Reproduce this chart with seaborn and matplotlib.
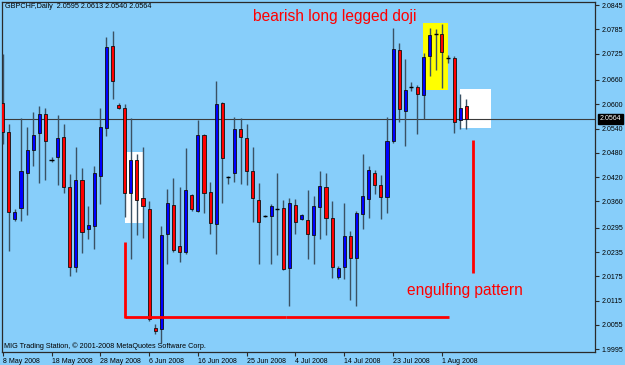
import numpy as np
import pandas as pd
import matplotlib
matplotlib.use("Agg")
import matplotlib.pyplot as plt
import matplotlib.transforms as mtransforms
from matplotlib.patches import Rectangle
import seaborn as sns

# ---------------- data (GBPCHF daily) ----------------
opens = [2.0604, 2.0532, 2.0317, 2.0343, 2.0430, 2.0486, 2.0530, 2.0575, 2.0462, 2.0470,
         2.0519, 2.0396, 2.0199, 2.0412, 2.0291, 2.0299, 2.0422, 2.0541, 2.0744, 2.0598,
         2.0590, 2.0382, 2.0462, 2.0369, 2.0342, 2.0047, 2.0044, 2.0279, 2.0351, 2.0249,
         2.0236, 2.0375, 2.0336, 2.0524, 2.0383, 2.0304, 2.0604, 2.0420, 2.0429, 2.0538,
         2.0516, 2.0435, 2.0363, 2.0324, 2.0324, 2.0341, 2.0343, 2.0196, 2.0351, 2.0316,
         2.0315, 2.0277, 2.0347, 2.0396, 2.0318, 2.0174, 2.0198, 2.0274, 2.0221, 2.0328,
         2.0365, 2.0431, 2.0401, 2.0372, 2.0509, 2.0733, 2.0583, 2.0643, 2.0643, 2.0623,
         2.0718, 2.0773, 2.0773, 2.0715, 2.0715, 2.0560, 2.0595]
highs = [2.0725, 2.0551, 2.0341, 2.0565, 2.0544, 2.0582, 2.0595, 2.0590, 2.0470, 2.0573,
         2.0551, 2.0427, 2.0495, 2.0443, 2.0349, 2.0448, 2.0590, 2.0765, 2.0781, 2.0603,
         2.0600, 2.0567, 2.0476, 2.0495, 2.0361, 2.0057, 2.0299, 2.0390, 2.0419, 2.0396,
         2.0491, 2.0378, 2.0562, 2.0527, 2.0409, 2.0658, 2.0606, 2.0423, 2.0569, 2.0565,
         2.0552, 2.0495, 2.0406, 2.0326, 2.0353, 2.0429, 2.0363, 2.0369, 2.0367, 2.0328,
         2.0389, 2.0374, 2.0434, 2.0431, 2.0361, 2.0201, 2.0357, 2.0287, 2.0336, 2.0476,
         2.0448, 2.0437, 2.0425, 2.0569, 2.0788, 2.0752, 2.0711, 2.0656, 2.0648, 2.0727,
         2.0788, 2.0785, 2.0798, 2.0721, 2.0719, 2.0626, 2.0613]
lows = [2.0503, 2.0238, 2.0312, 2.0312, 2.0327, 2.0447, 2.0405, 2.0412, 2.0457, 2.0401,
        2.0382, 2.0176, 2.0187, 2.0233, 2.0267, 2.0242, 2.0353, 2.0522, 2.0613, 2.0588,
        2.0322, 2.0217, 2.0276, 2.0269, 2.0065, 2.0032, 2.0011, 2.0206, 2.0236, 2.0211,
        2.0229, 2.0336, 2.0334, 2.0332, 2.0280, 2.0231, 2.0357, 2.0402, 2.0409, 2.0402,
        2.0401, 2.0309, 2.0206, 2.0322, 2.0205, 2.0228, 2.0190, 2.0102, 2.0280, 2.0313,
        2.0219, 2.0205, 2.0268, 2.0277, 2.0172, 2.0168, 2.0168, 2.0116, 2.0102, 2.0291,
        2.0318, 2.0379, 2.0316, 2.0332, 2.0505, 2.0557, 2.0497, 2.0633, 2.0527, 2.0563,
        2.0670, 2.0684, 2.0640, 2.0703, 2.0530, 2.0538, 2.0540]
closes = [2.0532, 2.0334, 2.0335, 2.0434, 2.0486, 2.0523, 2.0575, 2.0508, 2.0462, 2.0517,
          2.0396, 2.0198, 2.0412, 2.0285, 2.0301, 2.0431, 2.0544, 2.0742, 2.0658, 2.0590,
          2.0382, 2.0462, 2.0363, 2.0349, 2.0070, 2.0040, 2.0277, 2.0357, 2.0241, 2.0234,
          2.0388, 2.0341, 2.0524, 2.0382, 2.0306, 2.0601, 2.0467, 2.0420, 2.0540, 2.0518,
          2.0434, 2.0368, 2.0309, 2.0324, 2.0348, 2.0341, 2.0194, 2.0357, 2.0309, 2.0327,
          2.0279, 2.0349, 2.0398, 2.0320, 2.0199, 2.0196, 2.0275, 2.0220, 2.0331, 2.0374,
          2.0437, 2.0401, 2.0371, 2.0509, 2.0736, 2.0589, 2.0635, 2.0643, 2.0625, 2.0717,
          2.0771, 2.0773, 2.0730, 2.0715, 2.0557, 2.0590, 2.0564]

date_tick_bars = [0, 8, 16, 24, 32, 40, 48, 56, 64, 72]
date_labels = ["8 May 2008", "18 May 2008", "28 May 2008", "6 Jun 2008", "16 Jun 2008",
               "25 Jun 2008", "4 Jul 2008", "14 Jul 2008", "23 Jul 2008", "1 Aug 2008"]
price_ticks = [2.0845, 2.0785, 2.0725, 2.0660, 2.0600, 2.0540, 2.0480, 2.0420,
               2.0360, 2.0295, 2.0235, 2.0175, 2.0115, 2.0055, 1.9995]
last_price = 2.0564
header = "GBPCHF,Daily  2.0595 2.0613 2.0540 2.0564"
footer = "MIG Trading Station, \u00a9 2001-2008 MetaQuotes Software Corp."
note_doji = "bearish long legged doji"
note_engulf = "engulfing pattern"

# ---------------- style ----------------
sns.set_theme(style="white")
plt.rcParams['font.family'] = ['Liberation Sans', 'DejaVu Sans']

W, H = 625, 365
BG = '#87CEFA'
fig = plt.figure(figsize=(W / 100, H / 100), dpi=100)
fig.patch.set_facecolor(BG)

PX_L, PX_R, PX_T, PX_B = 2, 595, 2, 352
ax = fig.add_axes([PX_L / W, 1 - PX_B / H, (PX_R - PX_L) / W, (PX_B - PX_T) / H])
ax.set_facecolor(BG)

# pixel <-> data helpers (for annotation objects only)
X0, DX = 2.7, 6.1
P_REF, Y_REF, PPX = 2.0845, 5.0, 0.0002469


def px2x(px):
    return (px - X0) / DX


def py2p(py):
    return P_REF - (py - Y_REF) * PPX


ax.set_xlim(px2x(PX_L), px2x(PX_R))
ax.set_ylim(py2p(PX_B), py2p(PX_T))

df = pd.DataFrame({"open": opens, "high": highs, "low": lows, "close": closes})
df["idx"] = np.arange(len(df))
df["bull"] = df["close"] > df["open"]
df["doji"] = df["close"] == df["open"]

# annotation rectangles (behind candles)
ax.add_patch(Rectangle((px2x(423.3), py2p(90.0)), (447.7 - 423.3) / DX, (90.0 - 22.7) * PPX,
                       facecolor='#FFFF00', edgecolor='none', zorder=1))
ax.add_patch(Rectangle((px2x(460.0), py2p(128.0)), (490.7 - 460.0) / DX, (128.0 - 89.3) * PPX,
                       facecolor='white', edgecolor='none', zorder=1))
ax.add_patch(Rectangle((px2x(125.0), py2p(222.7)), (143.3 - 125.0) / DX, (222.7 - 152.3) * PPX,
                       facecolor='white', edgecolor='none', zorder=1))

# bid line
ax.axhline(last_price, color='#3a3a3a', lw=0.8, zorder=2)

# wicks
ax.vlines(df["idx"], df["low"], df["high"], color='#3a5163', lw=1.0, zorder=3)

# bodies
body = df[~df["doji"]]
bottoms = np.minimum(body["open"], body["close"])
heights = np.abs(body["close"] - body["open"])
colors = np.where(body["bull"], '#0000FF', '#FF0000')
ax.bar(body["idx"], heights, bottom=bottoms, width=0.52, color=colors,
       edgecolor='#101010', linewidth=0.6, zorder=4)

# doji crosses
dj = df[df["doji"]]
ax.hlines(dj["close"], dj["idx"] - 0.33, dj["idx"] + 0.33, color='black', lw=1.0, zorder=4)

# red trendlines
RED = '#FF0000'
ax.plot([px2x(125), px2x(125)], [py2p(241.7), py2p(318.3)], color=RED, lw=2, zorder=5,
        solid_capstyle='butt')
ax.plot([px2x(125), px2x(286)], [py2p(317.3), py2p(317.3)], color=RED, lw=2, zorder=5,
        solid_capstyle='butt')
ax.plot([px2x(286), px2x(449)], [py2p(316.5), py2p(316.5)], color=RED, lw=2, zorder=5,
        solid_capstyle='butt')
ax.plot([px2x(472.7), px2x(472.7)], [py2p(140), py2p(273.3)], color=RED, lw=2, zorder=5,
        solid_capstyle='butt')

# axes / ticks
for s in ax.spines.values():
    s.set_color('#2a2a2a')
    s.set_linewidth(0.9)
ax.grid(False)
ax.yaxis.tick_right()
ax.set_yticks(price_ticks)
ax.set_yticklabels([f"{p:.4f}" for p in price_ticks])
ax.set_xticks(date_tick_bars)
ax.set_xticklabels(date_labels, ha='left')
ax.tick_params(axis='y', which='both', right=True, left=False, direction='out', length=3,
               width=0.8, color='#2a2a2a', labelsize=5, pad=1.5, labelcolor='black')
ax.tick_params(axis='x', which='both', bottom=True, top=False, direction='out', length=3,
               width=0.8, color='#2a2a2a', labelsize=5, pad=1.5, labelcolor='black')

# current price label
trans = mtransforms.blended_transform_factory(ax.transAxes, ax.transData)
ax.text((600 - PX_L) / (PX_R - PX_L), last_price, f"{last_price:.4f}", transform=trans,
        ha='left', va='center', color='white', fontsize=5, zorder=10, clip_on=False,
        bbox=dict(facecolor='black', edgecolor='black', boxstyle='square,pad=0.25'))

# texts
fig.text(5 / W, 1 - 7 / H, header, fontsize=5.2, ha='left', va='center', color='black')
fig.text(4 / W, 1 - 346 / H, footer, fontsize=5.2, ha='left', va='center', color='black')
fig.text(253 / W, 1 - 21 / H, note_doji, fontsize=11.2, ha='left', va='baseline', color=RED)
fig.text(407 / W, 1 - 294.5 / H, note_engulf, fontsize=11.2, ha='left', va='baseline', color=RED)

fig.savefig("out.png", dpi=100, facecolor=BG)
